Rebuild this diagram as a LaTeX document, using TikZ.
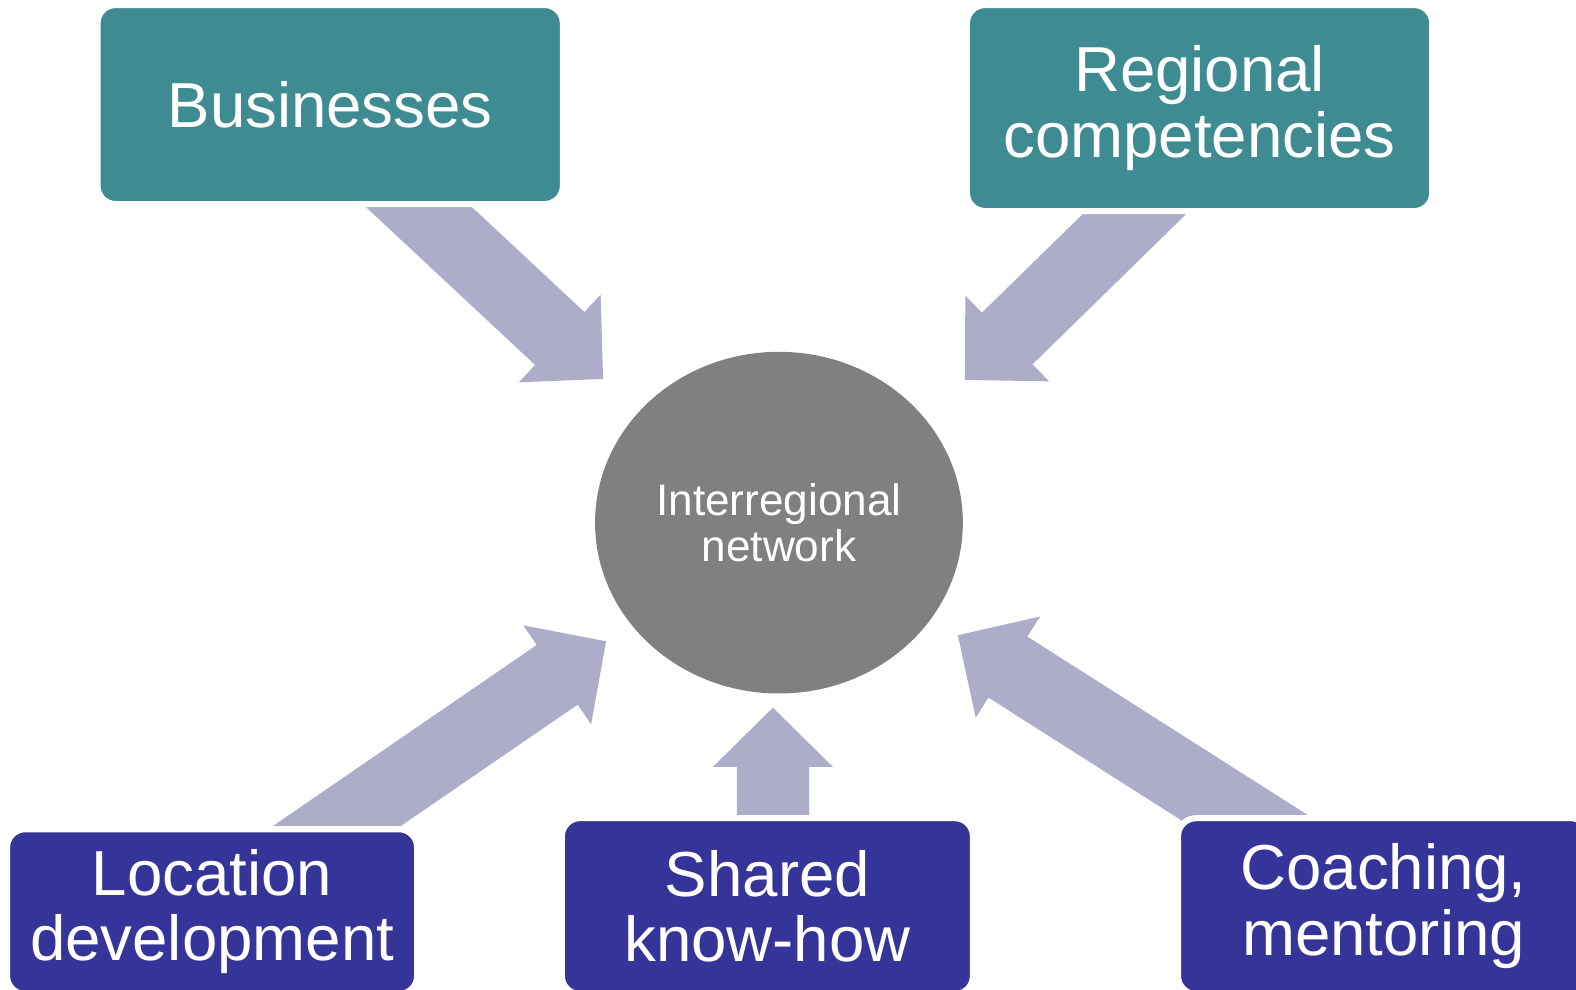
\documentclass[tikz,border=0pt]{standalone}
\usepackage{fontspec}
\setmainfont{Liberation Sans}
\usepackage{xcolor}
\usetikzlibrary{arrows.meta,shapes.geometric,backgrounds}

\definecolor{tealbox}{RGB}{62,140,146}
\definecolor{bluebox}{RGB}{53,53,153}
\definecolor{arrowlav}{RGB}{173,173,201}
\definecolor{netgray}{RGB}{128,128,128}

\begin{document}
\begin{tikzpicture}[x=0.02cm,y=-0.02cm,
      box_teal/.style={
         rectangle,
         rounded corners=0.36cm,
         fill=tealbox,
         draw=white,
         line width=0.12cm,
         text=white,
         align=center,
         inner sep=0pt,
         font=\fontsize{36}{37}\selectfont},
      box_blue/.style={
         box_teal,
         fill=bluebox},
      net_node/.style={
         ellipse,
         fill=netgray,
         text=white,
         align=center,
         inner sep=0pt,
         minimum width=7.32cm,
         minimum height=6.8cm,
         font=\fontsize{25}{26}\selectfont},
      arrow_block/.style={
         draw=arrowlav,
         line width=1.44cm,
         -{Triangle[width=2.38cm,length=1.18cm,line width=0.04cm 0 0]}},
]
      \useasboundingbox (0,0) rectangle (1568,984);

      %network in the middle
      \node[net_node] (net) at (775,520) {Interregional\\network};

      \node[box_teal,minimum width=9.26cm,minimum height=3.96cm] (biz) at (328.5,104) {Businesses};
      \node[box_teal,minimum width=9.26cm,minimum height=4.1cm] (reg) at (1193.5,107.5) {Regional\\competencies};

      \node[box_blue,minimum width=8.16cm,minimum height=3.28cm] (loc) at (211,907) {Location\\development};
      \node[box_blue,minimum width=8.18cm,minimum height=3.5cm] (shared) at (763.5,901.5) {Shared\\know-how};
      \node[box_blue,minimum width=8.18cm,minimum height=3.5cm] (coach) at (1376.5,901.5) {Coaching,\\mentoring};

      %arrow tips
      \coordinate (t1) at (600,377);
      \coordinate (t2) at (960,378);
      \coordinate (t3) at (603,638);
      \coordinate (t4) at (769,704);
      \coordinate (t5) at (953,632);

      \begin{scope}[on background layer]
      \foreach \n/\dx/\t in {% box/shift of tail/tip
        biz/-0.42/t1,
        reg/0.86/t2,
        loc/0/t3,
        shared/0.11/t4,
        coach/0/t5}
        \draw[arrow_block] ([xshift=\dx cm]\n.center) -- (\t);
      \end{scope}

\end{tikzpicture}
\end{document}
